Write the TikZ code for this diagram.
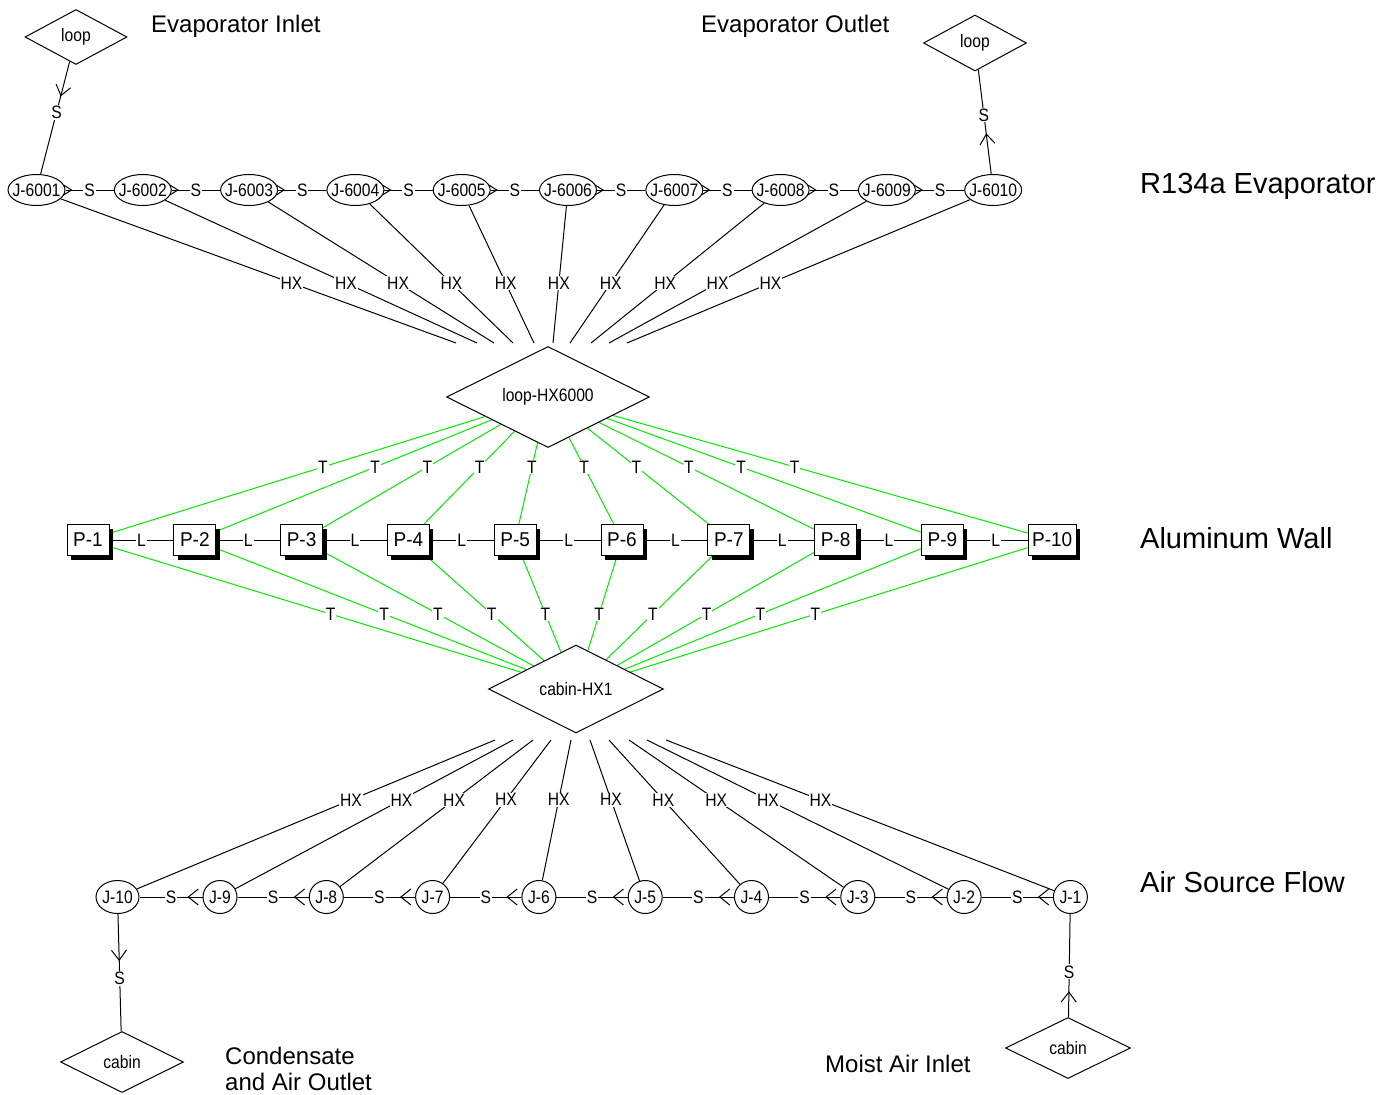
\documentclass[tikz,border=0pt]{standalone}
\usepackage{fontspec}
\setmainfont{Liberation Sans}
\newfontfamily\nfont[FakeStretch=0.87]{Liberation Sans}
\newfontfamily\pfont[FakeStretch=0.95]{Liberation Sans}
\usetikzlibrary{shapes.geometric,arrows.meta,decorations.markings,shadows}
\pgfdeclarelayer{background}
\pgfsetlayers{background,main}
\definecolor{wallgreen}{RGB}{0,235,0}
\newcommand{\ctext}[1]{\makebox[0pt]{#1}}
\tikzset{
  smallfont/.style={font=\nfont\fontsize{18pt}{18pt}\selectfont},
  jtop/.style={ellipse,draw,fill=white,line width=1pt,minimum width=57pt,minimum height=31pt,inner sep=0pt,smallfont},
  jbot/.style={ellipse,draw,fill=white,line width=1pt,minimum width=34pt,minimum height=33pt,inner sep=0pt,smallfont},
  pbox/.style={rectangle,draw,fill=white,line width=1pt,minimum width=42pt,minimum height=31pt,inner sep=0pt,
    font=\pfont\fontsize{20pt}{20pt}\selectfont,
    drop shadow={shadow xshift=4pt,shadow yshift=-4pt,fill=black,opacity=1}},
  dia/.style={diamond,draw,fill=white,line width=1pt,inner sep=0pt,smallfont},
  edge/.style={draw=black,line width=1pt},
  tedge/.style={draw=wallgreen,line width=1pt},
  lab/.style={fill=white,inner sep=1pt,text=black,smallfont},
  biglab/.style={inner sep=0pt,font=\fontsize{24pt}{28pt}\selectfont},
  biglabb/.style={inner sep=0pt,font=\fontsize{29pt}{33pt}\selectfont},
  chevS/.tip={Straight Barb[length=8pt,width=10pt]},
  chevB/.tip={Straight Barb[length=10pt,width=16pt]},
  chevV/.tip={Straight Barb[length=10pt,width=15pt]},
  flowmark/.style 2 args={decoration={markings,mark=at position #1 with {\arrow{#2}}},postaction={decorate}},
}
\begin{document}
\begin{tikzpicture}[x=1pt,y=-1pt]
\useasboundingbox (0,0) rectangle (1393,1095);

% ---- top junctions (R134a evaporator)
\foreach \k/\lbl in {1/J-6001,2/J-6002,3/J-6003,4/J-6004,5/J-6005,6/J-6006,7/J-6007,8/J-6008,9/J-6009,10/J-6010}
  \node[jtop] (jt\k) at ({36.5+106.3*(\k-1)},190) {\ctext{\lbl}};

% ---- bottom junctions (air)
\foreach \k/\x in {1/1070.4,2/964.1,3/857.8,4/751.5,5/645.2,6/538.9,7/432.6,8/326.3,9/220}
  \node[jbot] (jb\k) at (\x,897) {\ctext{J-\k}};
\node[jbot,minimum width=43pt] (jb10) at (117.5,897) {\ctext{J-10}};

% ---- wall nodes
\foreach \k in {1,...,9}
  \node[pbox] (p\k) at ({88+106.8*(\k-1)},540) {P-\k};
\node[pbox,minimum width=48pt] (p10) at (1052.2,540) {P-10};

% ---- diamonds
\node[dia,minimum width=203pt,minimum height=101pt] (lhx) at (548,397) {\ctext{loop-HX6000}};
\node[dia,minimum width=175pt,minimum height=88pt] (chx) at (576,689) {\ctext{cabin-HX1}};
\node[dia,minimum width=102pt,minimum height=55pt] (loopin) at (76,37) {\ctext{loop}};
\node[dia,minimum width=103pt,minimum height=56pt] (loopout) at (975,43) {\ctext{loop}};
\node[dia,minimum width=123pt,minimum height=61pt] (cabout) at (122,1062) {\ctext{cabin}};
\node[dia,minimum width=125pt,minimum height=61pt] (cabin) at (1068,1048) {\ctext{cabin}};

% ---- free ends of HX connectors
\foreach \k/\x in {1/456,2/477,3/494,4/513,5/534,6/553,7/570,8/591,9/609,10/627}
  \coordinate (hxt\k) at (\x,343);
\foreach \k/\x in {10/495,9/513,8/533,7/551,6/571,5/590,4/609,3/629,2/647,1/666}
  \coordinate (hxb\k) at (\x,740);

% ---- text labels
\node[biglab,anchor=base west] (tEvIn) at (151,32) {Evaporator Inlet};
\node[biglab,anchor=base west] (tEvOut) at (701,32) {Evaporator Outlet};
\node[biglabb,anchor=base west] (tR) at (1140,193) {R134a Evaporator};
\node[biglabb,anchor=base west] (tAl) at (1140,548) {Aluminum Wall};
\node[biglabb,anchor=base west] (tAir) at (1140,892) {Air Source Flow};
\node[biglab,anchor=base west] (tCondA) at (225,1064) {Condensate};
\node[biglab,anchor=base west] (tCondB) at (225,1090) {and Air Outlet};
\node[biglab,anchor=base west] (tMoist) at (825,1072) {Moist Air Inlet};

\begin{pgfonlayer}{background}
% top chain
\foreach \a/\b in {1/2,2/3,3/4,4/5,5/6,6/7,7/8,8/9,9/10}
  \draw[edge,flowmark={7pt}{chevS}] (jt\a) -- node[lab]{S} (jt\b);
% top HX
\foreach \k/\p in {1/0.584,2/0.580,3/0.575,4/0.570,5/0.565,6/0.564,7/0.567,8/0.572,9/0.578,10/0.582}
  \draw[edge] (jt\k) -- node[lab,pos=\p]{HX} (hxt\k);
% green T, top
\foreach \k/\p in {1/0.568,2/0.577,3/0.587,4/0.615,5/0.700,6/0.658,7/0.596,8/0.583,9/0.573,10/0.562}
  \draw[tedge] (p\k) -- node[lab,pos=\p]{T} (lhx);
% green T, bottom
\foreach \k/\p in {1/0.537,2/0.541,3/0.545,4/0.555,5/0.603,6/0.613,7/0.560,8/0.546,9/0.542,10/0.534}
  \draw[tedge] (p\k) -- node[lab,pos=\p]{T} (chx);
% L links
\foreach \a/\b in {1/2,2/3,3/4,4/5,5/6,6/7,7/8,8/9,9/10}
  \draw[edge] (p\a) -- node[lab]{L} (p\b);
% bottom chain
\foreach \a/\b in {1/2,2/3,3/4,4/5,5/6,6/7,7/8,8/9,9/10}
  \draw[edge,flowmark={15pt}{chevB}] (jb\a) -- node[lab]{S} (jb\b);
% bottom HX
\foreach \k/\p in {10/0.598,9/0.598,8/0.591,7/0.583,6/0.574,5/0.576,4/0.585,3/0.593,2/0.599,1/0.602}
  \draw[edge] (jb\k) -- node[lab,pos=\p]{HX} (hxb\k);
% boundary connections
\draw[edge,flowmark={36pt}{chevV}] (loopin) -- node[lab,pos=0.45]{S} (jt1);
\draw[edge,flowmark={41pt}{chevV}] (jt10) -- node[lab,pos=0.565]{S} (loopout);
\draw[edge,flowmark={26pt}{chevV}] (cabin) -- node[lab,pos=0.44]{S} (jb1);
\draw[edge,flowmark={47pt}{chevV}] (jb10) -- node[lab,pos=0.547]{S} (cabout);
\end{pgfonlayer}
\end{tikzpicture}
\end{document}
